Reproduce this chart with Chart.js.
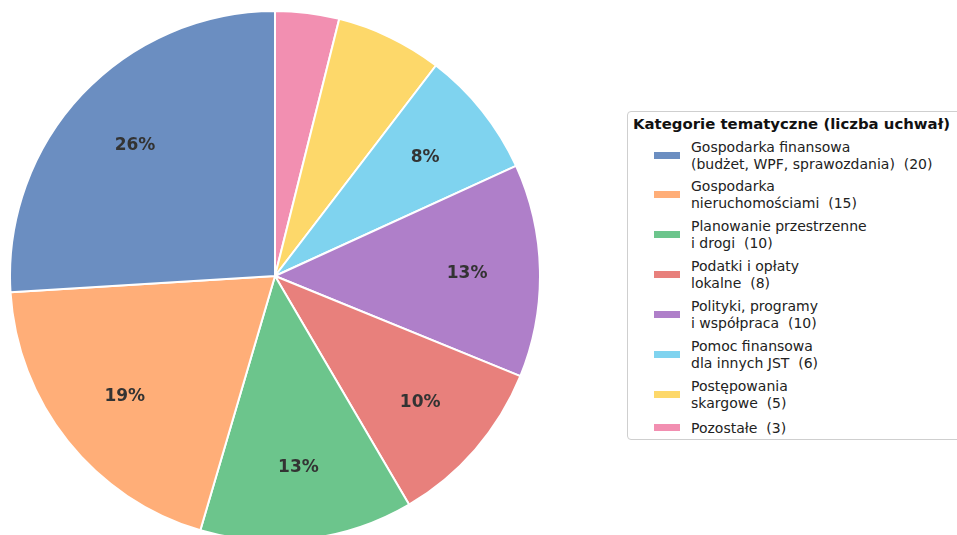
<!DOCTYPE html>
<html>
<head>
<meta charset="utf-8">
<script src="https://cdn.jsdelivr.net/npm/chart.js@4.4.1/dist/chart.umd.min.js"></script>
<style>
  html, body { margin: 0; padding: 0; width: 957px; height: 535px; overflow: hidden; background: #fff; }
  body { position: relative; font-family: "DejaVu Sans", sans-serif; color: #222; }
  #pieWrap { position: absolute; left: 9px; top: 10px; width: 532px; height: 532px; }
  #legend {
    position: absolute; left: 627px; top: 111px; width: 336px; height: 329px;
    border: 1px solid #cfcfcf; border-radius: 4px; box-sizing: border-box; background: #fff;
  }
  #legend .title { position: absolute; left: 5px; top: 3px; font-weight: bold; font-size: 14.9px; white-space: nowrap; color: #111; }
  #legend .item { position: absolute; left: 0; width: 330px; }
  #legend .swatch { position: absolute; left: 26px; width: 26px; height: 7px; }
  #legend .text { position: absolute; left: 63px; font-size: 14px; line-height: 17px; white-space: pre; color: #222; }
</style>
</head>
<body>
<div id="pieWrap"><canvas id="pie" width="532" height="532"></canvas></div>
<div id="legend"><div class="title">Kategorie tematyczne (liczba uchwał)</div></div>
<script>
// legend order (matplotlib draws counter-clockwise from the top)
const categories = [
  ["Gospodarka finansowa", "(budżet, WPF, sprawozdania)  (20)"],
  ["Gospodarka", "nieruchomościami  (15)"],
  ["Planowanie przestrzenne", "i drogi  (10)"],
  ["Podatki i opłaty", "lokalne  (8)"],
  ["Polityki, programy", "i współpraca  (10)"],
  ["Pomoc finansowa", "dla innych JST  (6)"],
  ["Postępowania", "skargowe  (5)"],
  ["Pozostałe  (3)"]
];
const counts = [20, 15, 10, 8, 10, 6, 5, 3];
const colors = ["#6b8ec1", "#ffae78", "#6cc58c", "#e8807c", "#af7fc9", "#7fd3ef", "#fdd86a", "#f28fb1"];
const MIN_PCT_LABEL = 7;

// Chart.js goes clockwise, so reverse to get the same slice layout
const pieCounts = counts.slice().reverse();
const pieColors = colors.slice().reverse();
const total = counts.reduce((a, b) => a + b, 0);

const pctLabels = {
  id: "pctLabels",
  afterDatasetsDraw(chart) {
    const ctx = chart.ctx;
    const meta = chart.getDatasetMeta(0);
    ctx.save();
    ctx.font = "bold 17px 'DejaVu Sans'";
    ctx.fillStyle = "#333333";
    ctx.textAlign = "center";
    ctx.textBaseline = "middle";
    meta.data.forEach((arc, i) => {
      const pct = pieCounts[i] / total * 100;
      if (pct < MIN_PCT_LABEL) return;
      const p = arc.getProps(["x", "y", "startAngle", "endAngle", "outerRadius"], true);
      const mid = (p.startAngle + p.endAngle) / 2;
      const r = p.outerRadius * 0.725;
      ctx.fillText(Math.round(pct) + "%", p.x + Math.cos(mid) * r, p.y + Math.sin(mid) * r + 1);
    });
    ctx.restore();
  }
};

new Chart(document.getElementById("pie"), {
  type: "pie",
  data: {
    labels: categories.slice().reverse().map(c => c.join(" ")),
    datasets: [{
      data: pieCounts,
      backgroundColor: pieColors,
      borderColor: "#ffffff",
      borderWidth: 2
    }]
  },
  options: {
    responsive: false,
    animation: false,
    layout: { padding: 0 },
    plugins: { legend: { display: false }, tooltip: { enabled: false } }
  },
  plugins: [pctLabels]
});

// legend box
const legendEl = document.getElementById("legend");
const itemCenters = [44, 83, 123, 163, 203, 243, 283, 316];
categories.forEach((lines, i) => {
  const item = document.createElement("div");
  item.className = "item";
  item.style.top = itemCenters[i] + "px";
  const sw = document.createElement("div");
  sw.className = "swatch";
  sw.style.background = colors[i];
  sw.style.top = "-4px";
  const tx = document.createElement("div");
  tx.className = "text";
  tx.style.top = (-lines.length * 17 / 2) + "px";
  tx.textContent = lines.join("\n");
  item.appendChild(sw);
  item.appendChild(tx);
  legendEl.appendChild(item);
});
</script>
</body>
</html>
